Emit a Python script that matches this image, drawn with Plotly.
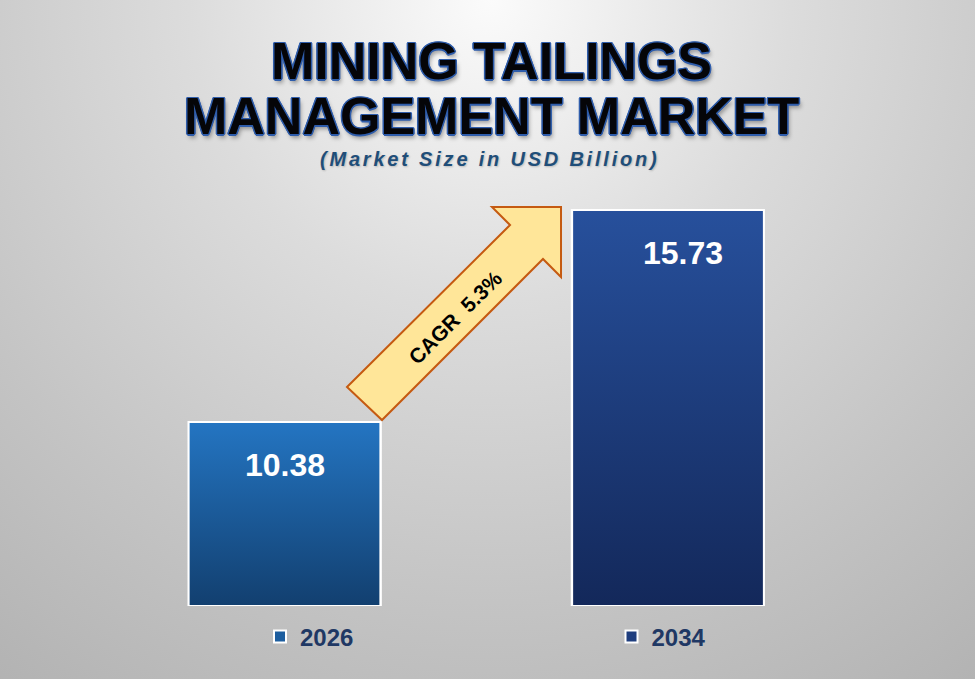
import base64
import plotly.graph_objects as go

W, H = 975, 679

# chart data
years = ["2026", "2034"]
market_size = [10.38, 15.73]
bar_colors = ["#1d5e9f", "#1f3e7e"]          # legend swatches
bar_tops = ["#2475c2", "#27509c"]
bar_bottoms = ["#123f6f", "#13285a"]
cagr_text = "CAGR  5.3%"
title_lines = ["MINING TAILINGS", "MANAGEMENT MARKET"]
subtitle = "(Market Size in USD Billion)"

Y_MIN, Y_MAX = 5.74, 15.98
BAR_W = 0.5


def px_x(x):
    return x / W


def px_y(y):
    return 1 - y / H


# soft radial grey background as an inline svg
bg_svg = (
    f'<svg xmlns="http://www.w3.org/2000/svg" width="{W}" height="{H}">'
    '<defs><radialGradient id="g" gradientUnits="userSpaceOnUse" cx="490" cy="0" r="860">'
    '<stop offset="0" stop-color="#fbfbfb"/>'
    '<stop offset="0.35" stop-color="#dcdcdc"/>'
    '<stop offset="0.7" stop-color="#c4c4c4"/>'
    '<stop offset="1" stop-color="#b1b1b1"/>'
    '</radialGradient></defs>'
    f'<rect width="{W}" height="{H}" fill="url(#g)"/></svg>'
)
bg_src = "data:image/svg+xml;base64," + base64.b64encode(bg_svg.encode()).decode()

fig = go.Figure()
for i, (yr, val) in enumerate(zip(years, market_size)):
    fig.add_trace(go.Bar(
        x=[i], y=[val], name=yr,
        width=BAR_W,
        marker=dict(color=bar_colors[i], line=dict(color="white", width=2)),
        legend="legend" if i == 0 else "legend2",
        showlegend=True,
        hoverinfo="skip",
    ))

# vertical gradient fill on top of each bar (same footprint as the bar)
for i, val in enumerate(market_size):
    left, right = i - BAR_W / 2, i + BAR_W / 2
    fig.add_trace(go.Scatter(
        x=[left, left, right, right, left],
        y=[Y_MIN, val, val, Y_MIN, Y_MIN],
        mode="lines", fill="toself",
        line=dict(color="white", width=2),
        fillgradient=dict(type="vertical", start=Y_MIN, stop=val,
                          colorscale=[[0, bar_bottoms[i]], [1, bar_tops[i]]]),
        showlegend=False, hoverinfo="skip", cliponaxis=False,
    ))

annotations = []
# value labels inside bars
for i, val in enumerate(market_size):
    annotations.append(dict(
        x=i, y=val, xref="x", yref="y", text=f"{val:.2f}", showarrow=False,
        yanchor="middle", yshift=-43, xshift=0 if i == 0 else 15,
        font=dict(family="Liberation Sans", size=32, color="white", weight="bold"),
    ))

ol = "#2f5dab"
title_font = dict(
    family="Liberation Sans", size=52, color="#050508", weight="bold",
    shadow=(f"1.5px 0 0 {ol}, -1.5px 0 0 {ol}, 0 1.5px 0 {ol}, 0 -1.5px 0 {ol}, "
            f"1px 1px 0 {ol}, -1px -1px 0 {ol}, 1px -1px 0 {ol}, -1px 1px 0 {ol}, "
            "2px 4px 4px rgba(0,0,0,0.35)"),
)
annotations.append(dict(x=px_x(491), y=px_y(61), xref="paper", yref="paper",
                        text=title_lines[0], showarrow=False, yanchor="middle", font=title_font))
annotations.append(dict(x=px_x(492), y=px_y(116), xref="paper", yref="paper",
                        text=title_lines[1], showarrow=False, yanchor="middle", font=title_font))
annotations.append(dict(
    x=px_x(490), y=px_y(159), xref="paper", yref="paper", showarrow=False, yanchor="middle",
    text=f'<span style="letter-spacing:2.8px">{subtitle}</span>',
    font=dict(family="Liberation Sans", size=20, color="#1f4e79", weight="bold", style="italic",
              shadow="1px 1px 2px rgba(0,0,0,0.2)"),
))
annotations.append(dict(
    x=px_x(455), y=px_y(317), xref="paper", yref="paper", showarrow=False,
    text=cagr_text, textangle=-45,
    font=dict(family="Liberation Sans", size=21, color="black", weight="bold"),
))

# CAGR arrow outline (pixel corners -> paper)
arrow_pts = [(347, 387), (510, 225), (492, 207), (561, 207), (561, 277), (543, 259), (382, 420)]
arrow_path = "M " + " L ".join(f"{px_x(x):.4f},{px_y(y):.4f}" for x, y in arrow_pts) + " Z"

legend_style = dict(
    orientation="h", bgcolor="rgba(0,0,0,0)", borderwidth=0,
    yanchor="middle", xanchor="left",
    font=dict(family="Liberation Sans", size=24, color="#1f3864", weight="bold"),
)

fig.update_layout(
    width=W, height=H,
    margin=dict(l=0, r=0, t=0, b=0),
    showlegend=True,
    paper_bgcolor="#c8c8c8",
    plot_bgcolor="rgba(0,0,0,0)",
    images=[dict(source=bg_src, xref="paper", yref="paper", x=0, y=1,
                 sizex=1, sizey=1, sizing="stretch", layer="below")],
    xaxis=dict(domain=[px_x(92.75), px_x(859.75)], range=[-0.5, 1.5],
               showgrid=False, showticklabels=False, zeroline=False, showline=False,
               fixedrange=True),
    yaxis=dict(domain=[px_y(606), px_y(200)], range=[Y_MIN, Y_MAX],
               showgrid=False, showticklabels=False, zeroline=False, showline=False,
               fixedrange=True),
    shapes=[dict(type="path", path=arrow_path, xref="paper", yref="paper",
                 fillcolor="#ffe699", line=dict(color="#c55a11", width=2), layer="above")],
    annotations=annotations,
    legend=dict(x=px_x(260), y=px_y(637), **legend_style),
    legend2=dict(x=px_x(611.5), y=px_y(637), **legend_style),
    bargap=0,
)

fig.write_html("out.html", config={"displayModeBar": False},
               post_script="document.body.style.margin='0px';")
